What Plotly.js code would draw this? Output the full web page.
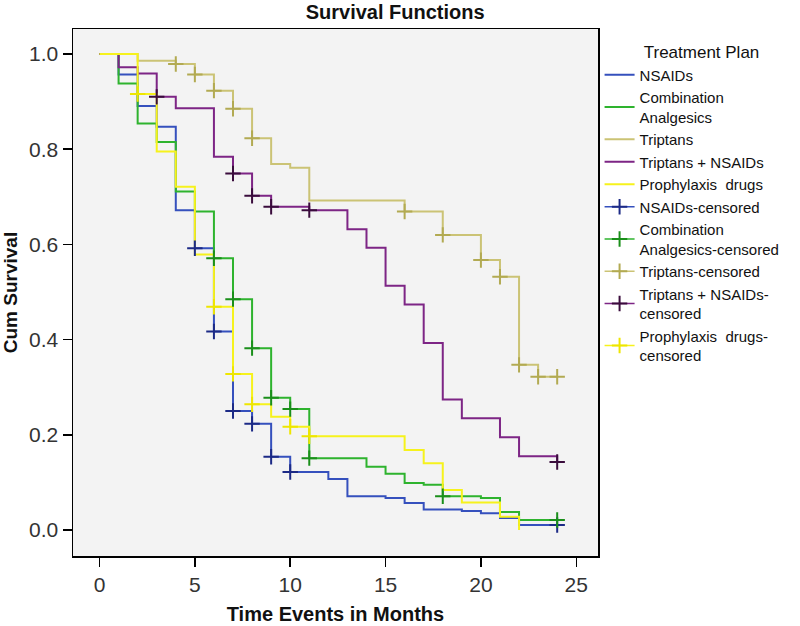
<!DOCTYPE html>
<html>
<head>
<meta charset="utf-8">
<script src="https://cdn.plot.ly/plotly-3.0.1.min.js"></script>
<style>html,body{margin:0;padding:0;background:#fff;}</style>
</head>
<body>
<div id="chart" style="width:800px;height:626px;"></div>
<script>
// ---- Data ----
const seriesNames = ['NSAIDs', 'Combination<br>Analgesics', 'Triptans', 'Triptans + NSAIDs', 'Prophylaxis\u00a0 drugs'];
const censoredNames = ['NSAIDs-censored', 'Combination<br>Analgesics-censored', 'Triptans-censored', 'Triptans + NSAIDs-<br>censored', 'Prophylaxis\u00a0 drugs-<br>censored'];

const nsaidsMonths = [0, 1, 2, 3, 4, 5, 6, 7, 8, 9, 10, 12, 13, 15, 16, 17, 19, 20, 21, 22, 24];
const nsaidsSurv   = [1, 0.957, 0.891, 0.847, 0.672, 0.592, 0.417, 0.250, 0.223, 0.154, 0.122, 0.107, 0.071, 0.067, 0.057, 0.043, 0.040, 0.035, 0.025, 0.0105, 0.0105];
const nsaidsCensored = [5, 6, 7, 8, 9, 10, 24];

const comboMonths = [0, 1, 2, 3, 4, 5, 6, 7, 8, 9, 10, 11, 14, 15, 16, 17, 18, 20, 21, 22, 24];
const comboSurv   = [1, 0.938, 0.854, 0.815, 0.711, 0.669, 0.571, 0.485, 0.382, 0.278, 0.254, 0.151, 0.133, 0.118, 0.099, 0.095, 0.071, 0.067, 0.038, 0.021, 0.021];
const comboCensored = [6, 7, 8, 9, 10, 11, 18, 24];

const triptansMonths = [0, 2, 4, 5, 6, 7, 8, 9, 10, 11, 16, 18, 20, 21, 22, 23, 24];
const triptansSurv   = [1, 0.986, 0.979, 0.957, 0.923, 0.885, 0.823, 0.769, 0.761, 0.692, 0.669, 0.620, 0.567, 0.532, 0.347, 0.322, 0.322];
const triptansCensored = [4, 5, 6, 7, 8, 16, 18, 20, 21, 22, 23, 24];

const tripNsaidMonths = [0, 1, 2, 3, 4, 6, 7, 8, 9, 11, 13, 14, 15, 16, 17, 18, 19, 21, 22, 24];
const tripNsaidSurv   = [1, 0.972, 0.959, 0.910, 0.886, 0.784, 0.749, 0.702, 0.679, 0.672, 0.632, 0.593, 0.513, 0.474, 0.393, 0.274, 0.235, 0.195, 0.155, 0.143];
const tripNsaidCensored = [3, 7, 8, 9, 11, 24];

const prophMonths = [0, 2, 3, 4, 5, 6, 7, 8, 9, 10, 11, 16, 17, 18, 19, 21, 22];
const prophSurv   = [1, 0.916, 0.795, 0.721, 0.579, 0.469, 0.328, 0.264, 0.238, 0.217, 0.197, 0.168, 0.140, 0.084, 0.058, 0.028, 0];
const prophCensored = [2, 6, 7, 8, 10, 11];

const xTicks = [0, 5, 10, 15, 20, 25];
const yTicks = [0, 0.2, 0.4, 0.6, 0.8, 1.0];

// ---- Styles ----
const lineColors = ['#3550bd', '#2eb32e', '#cbc375', '#7d2585', '#f6f21c'];
const censorColors = ['#1c2a86', '#1a8f1a', '#b2aa52', '#3a0c3c', '#eee600'];

const months = [nsaidsMonths, comboMonths, triptansMonths, tripNsaidMonths, prophMonths];
const surv = [nsaidsSurv, comboSurv, triptansSurv, tripNsaidSurv, prophSurv];
const censored = [nsaidsCensored, comboCensored, triptansCensored, tripNsaidCensored, prophCensored];

function survAt(t, ts, ss) {
  let v = ss[0];
  for (let i = 0; i < ts.length; i++) { if (ts[i] <= t) v = ss[i]; }
  return v;
}

const traces = [];
for (let i = 0; i < 5; i++) {
  traces.push({
    type: 'scatter', mode: 'lines', x: months[i], y: surv[i],
    name: seriesNames[i], line: {shape: 'hv', color: lineColors[i], width: 2},
    hoverinfo: 'skip'
  });
}
for (let i = 0; i < 5; i++) {
  const cx = [], cy = [];
  censored[i].forEach(t => { cx.push(t, null); cy.push(survAt(t, months[i], surv[i]), null); });
  traces.push({
    type: 'scatter', mode: 'lines+markers', x: cx, y: cy, connectgaps: false,
    name: censoredNames[i], line: {color: lineColors[i], width: 1.5},
    marker: {symbol: 'cross-thin', size: 11, color: censorColors[i], line: {color: censorColors[i], width: 2}},
    hoverinfo: 'skip'
  });
}

const FONT = 'Liberation Sans, Arial, sans-serif';
const layout = {
  width: 800, height: 626,
  margin: {l: 73, r: 202, t: 29, b: 70},
  paper_bgcolor: '#ffffff', plot_bgcolor: '#f3f3f3',
  font: {family: FONT, color: '#000'},
  title: {text: '<b>Survival Functions</b>', font: {family: FONT, size: 20, color: '#111'},
          xref: 'container', x: 0.494, xanchor: 'center', yref: 'container', y: 0.981, yanchor: 'middle'},
  xaxis: {
    range: [-1.39, 26.14], tickvals: xTicks, ticktext: xTicks.map(String),
    ticks: 'outside', ticklen: 9, tickwidth: 1.5, tickcolor: '#000',
    showline: true, mirror: true, linecolor: '#000', linewidth: 1.5,
    showgrid: false, zeroline: false,
    tickfont: {family: FONT, size: 21, color: '#333'},
    title: {text: '<b>Time Events in Months</b>', font: {family: FONT, size: 20, color: '#111'}, standoff: 12}
  },
  yaxis: {
    range: [-0.0546, 1.0525], tickvals: yTicks, tickformat: '.1f',
    ticks: 'outside', ticklen: 9, tickwidth: 1.5, tickcolor: '#000',
    showline: true, mirror: true, linecolor: '#000', linewidth: 1.5,
    showgrid: false, zeroline: false,
    tickfont: {family: FONT, size: 21, color: '#333'},
    title: {text: '<b>Cum Survival</b>', font: {family: FONT, size: 19, color: '#111'}, standoff: 8}
  },
  showlegend: true,
  legend: {
    x: 1.003, xanchor: 'left', y: 0.986, yanchor: 'top',
    font: {family: FONT, size: 15, color: '#111'},
    title: {text: '\u00a0\u00a0\u00a0\u00a0Treatment Plan', side: 'top center', font: {family: FONT, size: 17, color: '#111'}},
    bgcolor: 'rgba(0,0,0,0)', borderwidth: 0, tracegroupgap: 0, itemwidth: 30
  }
};

Plotly.newPlot('chart', traces, layout, {displayModeBar: false, staticPlot: true});
</script>
</body>
</html>
